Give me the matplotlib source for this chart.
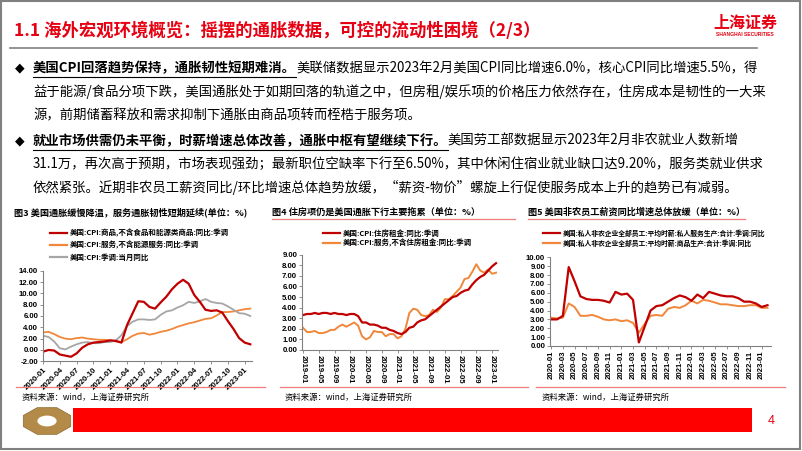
import matplotlib
matplotlib.use("Agg")
import matplotlib.pyplot as plt
from matplotlib.lines import Line2D
from matplotlib.patches import Rectangle, RegularPolygon, Circle
import numpy as np

plt.rcParams['font.family'] = ['Noto Sans CJK SC', 'DejaVu Sans']

W, H = 802, 451


def fx(x):
    return x / W


def fy(y):
    return 1 - y / H


RED = '#C00000'
ORANGE = '#F0873A'
GRAY = '#A6A6A6'
TITLE_RED = '#E60012'
PINK = '#F07C7C'
NUM_FONT = 'Liberation Sans'

# ---------------- data ----------------
# 图3: 2020-01 .. 2023-02 monthly
fig3_ticks = ['2020-01', '2020-04', '2020-07', '2020-10', '2021-01', '2021-04', '2021-07',
              '2021-10', '2022-01', '2022-04', '2022-07', '2022-10', '2023-01']
cpi_goods = [-0.3, 0.0, -0.1, -0.8, -1.0, -1.2, -0.6, 0.4, 1.0, 1.3, 1.4, 1.5,
             1.7, 1.6, 1.3, 4.4, 6.5, 8.6, 8.5, 7.6, 7.3, 8.4, 9.4, 10.7,
             11.7, 12.4, 11.7, 9.7, 8.5, 7.1, 6.9, 7.0, 6.6, 5.1, 3.7, 2.1,
             1.3, 1.0]
cpi_services = [3.1, 3.2, 2.8, 2.3, 2.0, 1.9, 2.1, 2.2, 2.0, 1.9, 1.8, 1.8,
                1.7, 1.5, 1.4, 1.9, 2.5, 2.9, 3.0, 2.7, 2.9, 3.2, 3.4, 3.7,
                4.1, 4.4, 4.7, 4.9, 5.2, 5.5, 5.6, 6.1, 6.7, 6.7, 6.8, 7.0,
                7.2, 7.3]
cpi_all = [2.5, 2.3, 1.5, 0.3, 0.1, 0.6, 1.0, 1.3, 1.4, 1.2, 1.2, 1.4,
           1.4, 1.7, 2.6, 4.2, 5.0, 5.4, 5.4, 5.3, 5.4, 6.2, 6.8, 7.0,
           7.5, 7.9, 8.5, 8.3, 8.6, 9.0, 8.5, 8.3, 8.2, 7.7, 7.1, 6.5,
           6.4, 6.0]
fig3_labels = ['美国:CPI:商品,不含食品和能源类商品:同比:季调',
               '美国:CPI:服务,不含能源服务:同比:季调',
               '美国:CPI:季调:当月同比']

# 图4: 2019-01 .. 2023-02 monthly
fig4_ticks = ['2019-01', '2019-05', '2019-09', '2020-01', '2020-05', '2020-09', '2021-01',
              '2021-05', '2021-09', '2022-01', '2022-05', '2022-09', '2023-01']
shelter = [3.3, 3.4, 3.4, 3.5, 3.4, 3.5, 3.5, 3.4, 3.5, 3.4, 3.4, 3.3,
           3.4, 3.4, 3.2, 2.6, 2.6, 2.4, 2.4, 2.3, 2.1, 2.1, 1.9, 1.8,
           1.6, 1.5, 1.7, 2.1, 2.2, 2.6, 2.8, 2.9, 3.2, 3.5, 3.8, 4.1,
           4.4, 4.7, 5.0, 5.1, 5.4, 5.6, 5.7, 6.2, 6.6, 6.9, 7.1, 7.5,
           7.9, 8.2]
services_ex_shelter = [2.1, 1.7, 1.7, 1.8, 1.6, 1.6, 1.7, 1.9, 1.9, 2.2, 2.4, 2.2,
                       2.4, 2.6, 2.3, 1.3, 1.0, 1.2, 1.8, 1.7, 1.7, 1.3, 1.5, 1.5,
                       1.1, 1.3, 2.0, 3.5, 3.9, 3.8, 3.3, 3.2, 3.3, 3.8, 3.6, 4.0,
                       4.8, 4.8, 5.1, 5.5, 5.9, 6.7, 6.8, 7.4, 8.1, 7.5, 7.3, 7.6,
                       7.2, 7.3]
fig4_labels = ['美国:CPI:住房租金:同比:季调',
               '美国:CPI:服务,不含住房租金:同比:季调']

# 图5: 2020-01 .. 2023-02 monthly
fig5_ticks = ['2020-01', '2020-03', '2020-05', '2020-07', '2020-09', '2020-11', '2021-01',
              '2021-03', '2021-05', '2021-07', '2021-09', '2021-11', '2022-01', '2022-03',
              '2022-05', '2022-07', '2022-09', '2022-11', '2023-01']
wage_services = [3.0, 3.0, 3.4, 8.9, 7.3, 5.6, 5.3, 5.2, 5.2, 5.1, 4.9, 6.1,
                 5.8, 5.9, 5.2, 0.4, 2.2, 4.0, 4.5, 4.6, 5.0, 5.4, 5.7, 5.5,
                 5.1, 5.8, 5.4, 6.1, 5.9, 5.7, 5.6, 5.6, 5.4, 5.0, 5.0, 4.8,
                 4.4, 4.6]
wage_goods = [3.2, 3.1, 3.2, 4.8, 4.4, 3.4, 3.4, 3.5, 3.3, 3.0, 2.9, 3.0,
              2.8, 2.9, 2.6, 1.5, 2.5, 3.4, 3.5, 3.4, 4.2, 4.4, 4.3, 4.6,
              5.1, 4.8, 5.2, 5.1, 4.9, 4.7, 4.7, 4.6, 4.5, 4.5, 4.6, 4.6,
              4.3, 4.3]
fig5_labels = ['美国:私人非农企业全部员工:平均时薪:私人服务生产:合计:季调:同比',
               '美国:私人非农企业全部员工:平均时薪:商品生产:合计:季调:同比']

# ---------------- figure ----------------
fig = plt.figure(figsize=(W / 100, H / 100), dpi=100)
fig.patch.set_facecolor('white')

# slide border
fig.add_artist(Rectangle((fx(1), fy(449)), fx(799), (448) / H, transform=fig.transFigure,
                         fill=False, edgecolor='#808080', lw=1.5))

# header
fig.text(fx(14), fy(31), '1.1 海外宏观环境概览：摇摆的通胀数据，可控的流动性困境（2/3）',
         fontsize=12.5, fontweight='bold', color=TITLE_RED, va='center')
fig.text(fx(745), fy(23), '上海证券', fontsize=11.5, fontweight='bold', color=TITLE_RED,
         ha='center', va='center')
fig.text(fx(745), fy(35), 'SHANGHAI SECURITIES', fontsize=3.6, fontweight='bold',
         color=TITLE_RED, ha='center', va='center', family=NUM_FONT)
fig.add_artist(Line2D([fx(10), fx(757)], [fy(48), fy(48)], color='#808080', lw=1.2))

# body text
fig.canvas.draw()
renderer = fig.canvas.get_renderer()
BODY_FS = 9.6
X0 = 33


def mixed_line(y, bold, normal):
    fig.text(fx(15), fy(y), '◆', fontsize=9, va='center', family=['DejaVu Sans'])
    t = fig.text(fx(X0), fy(y), bold, fontsize=BODY_FS, fontweight='bold', va='center')
    bb = t.get_window_extent(renderer=renderer)
    fig.text(bb.x1 / W, fy(y), normal, fontsize=BODY_FS, va='center')
    fig.add_artist(Line2D([bb.x0 / W, bb.x1 / W], [fy(y + 8.5)] * 2, color='black', lw=0.8))


mixed_line(68, '美国CPI回落趋势保持，通胀韧性短期难消。',
           '美联储数据显示2023年2月美国CPI同比增速6.0%，核心CPI同比增速5.5%，得')
fig.text(fx(X0), fy(92), '益于能源/食品分项下跌，美国通胀处于如期回落的轨道之中，但房租/娱乐项的价格压力依然存在，住房成本是韧性的一大来',
         fontsize=BODY_FS, va='center')
fig.text(fx(X0), fy(115), '源，前期储蓄释放和需求抑制下通胀由商品项转而桎梏于服务项。',
         fontsize=BODY_FS, va='center')
mixed_line(141, '就业市场供需仍未平衡，时薪增速总体改善，通胀中枢有望继续下行。',
           '美国劳工部数据显示2023年2月非农就业人数新增')
fig.text(fx(X0), fy(164), '31.1万，再次高于预期，市场表现强劲；最新职位空缺率下行至6.50%，其中休闲住宿业就业缺口达9.20%，服务类就业供求',
         fontsize=BODY_FS, va='center')
fig.text(fx(X0), fy(187), '依然紧张。近期非农员工薪资同比/环比增速总体趋势放缓，“薪资-物价”螺旋上行促使服务成本上升的趋势已有减弱。',
         fontsize=BODY_FS, va='center')

# chart titles and rules
fig.text(fx(14), fy(212), '图3 美国通胀缓慢降温，服务通胀韧性短期延续(单位：%)', fontsize=6.6,
         fontweight='bold', va='center')
fig.text(fx(272), fy(212), '图4 住房项仍是美国通胀下行主要拖累（单位：%）', fontsize=6.6,
         fontweight='bold', va='center')
fig.text(fx(528), fy(212), '图5 美国非农员工薪资同比增速总体放缓（单位：%）', fontsize=6.6,
         fontweight='bold', va='center')
for x0, x1 in [(272, 515), (528, 745)]:
    fig.add_artist(Line2D([fx(x0), fx(x1)], [fy(219)] * 2, color=PINK, lw=0.9))
for x0, x1 in [(16, 265), (280, 528), (536, 785)]:
    fig.add_artist(Line2D([fx(x0), fx(x1)], [fy(387)] * 2, color=PINK, lw=0.9))
for x0 in [22, 285, 542]:
    fig.text(fx(x0), fy(397), '资料来源：wind，上海证券研究所', fontsize=6, va='center',
             style='italic')


def legend(x, ys, colors, labels, fs):
    for y, c, lab in zip(ys, colors, labels):
        fig.add_artist(Line2D([fx(x), fx(x + 17)], [fy(y)] * 2, color=c, lw=1.6))
        fig.text(fx(x + 20), fy(y), lab, fontsize=fs, va='center', fontweight='bold')


def make_axes(left, right, top, bottom):
    ax = fig.add_axes([fx(left), fy(bottom), (right - left) / W, (bottom - top) / H])
    for s in ['top', 'right']:
        ax.spines[s].set_visible(False)
    for s in ['left', 'bottom']:
        ax.spines[s].set_color('#808080')
        ax.spines[s].set_linewidth(0.8)
    ax.tick_params(length=2, width=0.6, color='#808080', pad=1.5)
    ax.yaxis.set_major_formatter(matplotlib.ticker.FormatStrFormatter('%.2f'))
    return ax


def style_ticks(ax, fs=5.6):
    for lab in ax.get_yticklabels() + ax.get_xticklabels():
        lab.set_fontfamily(NUM_FONT)
        lab.set_fontweight('bold')
        lab.set_fontsize(fs)


# 图3
legend(50, [233, 245, 257], [RED, ORANGE, GRAY], fig3_labels, 5.4)
ax3 = make_axes(43, 252, 270.7, 361.3)
x3 = np.arange(len(cpi_goods))
ax3.plot(x3, cpi_services, color=ORANGE, lw=1.3)
ax3.plot(x3, cpi_all, color=GRAY, lw=1.3)
ax3.plot(x3, cpi_goods, color=RED, lw=1.6)
ax3.set_ylim(-2, 14)
ax3.set_yticks(np.arange(-2, 15, 2))
ax3.set_xlim(0, 37.3)
ax3.set_xticks(np.arange(len(fig3_ticks)) * 3)
ax3.set_xticklabels(fig3_ticks, rotation=45, ha='right', va='top', rotation_mode='anchor')
style_ticks(ax3)

# 图4
legend(323, [233, 243], [RED, ORANGE], fig4_labels, 5.4)
ax4 = make_axes(302, 498, 254.7, 350)
x4 = np.arange(len(shelter))
ax4.plot(x4, services_ex_shelter, color=ORANGE, lw=1.4)
ax4.plot(x4, shelter, color=RED, lw=1.6)
ax4.set_ylim(0, 9)
ax4.set_yticks(np.arange(0, 10, 1))
ax4.set_xlim(-0.25, 49.5)
ax4.set_xticks(np.arange(len(fig4_ticks)) * 4)
ax4.set_xticklabels(fig4_ticks, rotation=270, ha='center', va='top')
style_ticks(ax4)

# 图5
legend(543, [233, 243], [RED, ORANGE], fig5_labels, 4.9)
ax5 = make_axes(550, 771, 257.3, 346)
x5 = np.arange(len(wage_services))
ax5.plot(x5, wage_goods, color=ORANGE, lw=1.4)
ax5.plot(x5, wage_services, color=RED, lw=1.6)
ax5.set_ylim(0, 10)
ax5.set_yticks(np.arange(0, 11, 1))
ax5.set_xlim(-0.2, 37.6)
ax5.set_xticks(np.arange(len(fig5_ticks)) * 2)
ax5.set_xticklabels(fig5_ticks, rotation=90, ha='center', va='top')
style_ticks(ax5)

# footer
fig.add_artist(RegularPolygon((fx(47), fy(421)), numVertices=8, radius=0.032,
                              orientation=np.pi / 8, transform=fig.transFigure,
                              facecolor='#B48A48', edgecolor='#8C6A30', lw=0.5))
fig.add_artist(Circle((fx(47), fy(421)), 0.012, transform=fig.transFigure,
                      facecolor='white', edgecolor='none'))
fig.add_artist(Rectangle((fx(73), fy(432)), (752 - 73) / W, 24 / H, transform=fig.transFigure,
                         facecolor='#FF0000', edgecolor='none'))
fig.text(fx(771), fy(421), '4', fontsize=9, color=TITLE_RED, ha='center', va='center',
         family=NUM_FONT)

fig.savefig('out.png', dpi=100)
